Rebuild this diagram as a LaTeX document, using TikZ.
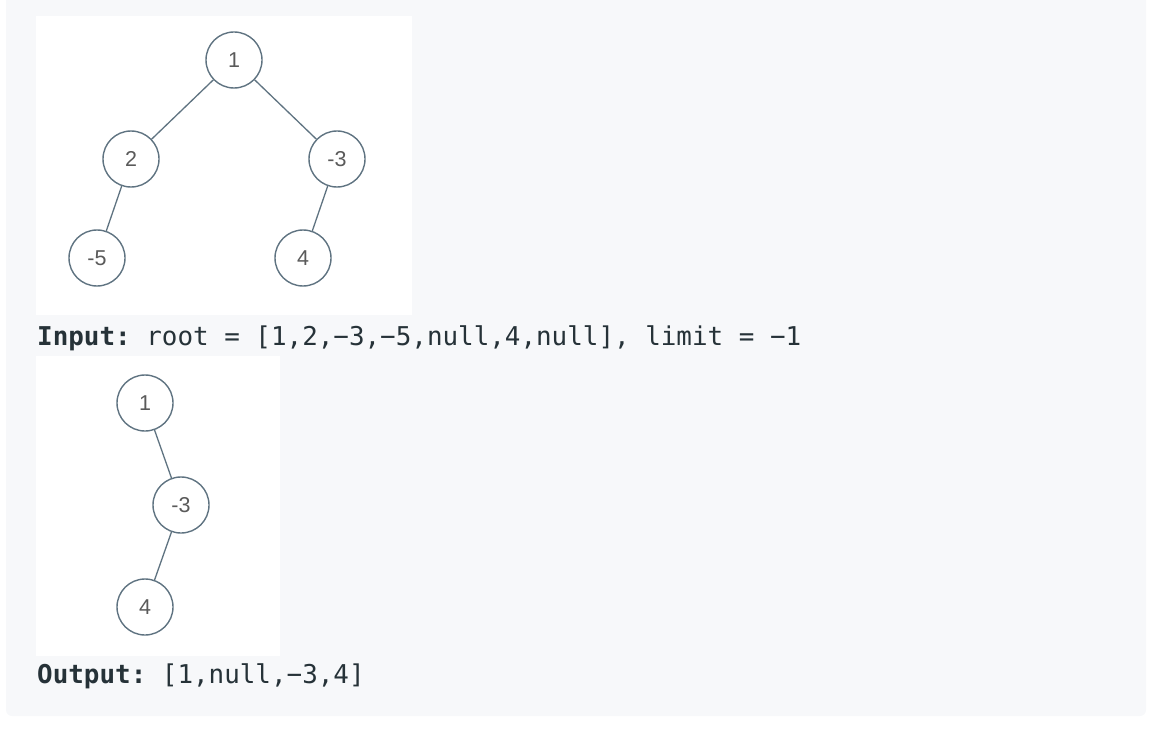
\documentclass[tikz,border=0pt]{standalone}
\usepackage{fontspec}
\setmainfont{Liberation Sans}
\setmonofont{DejaVu Sans Mono}
\usetikzlibrary{positioning}
\definecolor{panelbg}{HTML}{F7F8FA}
\definecolor{ringcol}{HTML}{5F7381}
\definecolor{digitcol}{HTML}{5A5A5A}
\definecolor{codecol}{HTML}{263238}

\begin{document}
\begin{tikzpicture}[x=1pt, y=-1pt, node distance=99pt]
    \tikzset{
        treenode/.style = {circle, draw=ringcol, line width=1.4pt, fill=white, minimum size=56pt, inner sep=0pt,
                           text=digitcol, font=\fontsize{21.5}{25}\selectfont},
        edge/.style = {draw=ringcol, line width=1.3pt},
        codeline/.style = {anchor=base west, inner sep=0pt, text=codecol, font=\ttfamily\fontsize{25.9}{30}\selectfont},
        canvas/.style = {fill=white, draw=none}
    }
    \useasboundingbox (0,0) rectangle (1156,730);
    \fill[panelbg, rounded corners=6pt] (6,-12) rectangle (1146,716);

    % input tree
    \fill[canvas] (36,16) rectangle (412,315);
    \node (in1) [treenode] at (234,60) {1};
    \node (in2) [treenode, below of=in1, xshift=-103pt] {2};
    \node (in3) [treenode, below of=in1, xshift=103pt] {-3};
    \node (in5) [treenode, below of=in2, xshift=-34pt] {-5};
    \node (in4) [treenode, below of=in3, xshift=-34pt] {4};

    \draw [edge] (in1) -- (in2);
    \draw [edge] (in1) -- (in3);
    \draw [edge] (in2) -- (in5);
    \draw [edge] (in3) -- (in4);

    \node (inText) [codeline] at (37,345) {\textbf{Input:} root = [1,2,−3,−5,null,4,null], limit = −1};

    % output tree
    \fill[canvas] (36,356) rectangle (280,656);
    \node (out1) [treenode] at (145,403) {1};
    \node (out3) [treenode, below of=out1, xshift=36pt, yshift=-3pt] {-3};
    \node (out4) [treenode, below of=out3, xshift=-36pt, yshift=-3pt] {4};

    \draw [edge] (out1) -- (out3);
    \draw [edge] (out3) -- (out4);

    \node (outText) [codeline] at (37,683) {\textbf{Output:} [1,null,−3,4]};
\end{tikzpicture}
\end{document}
